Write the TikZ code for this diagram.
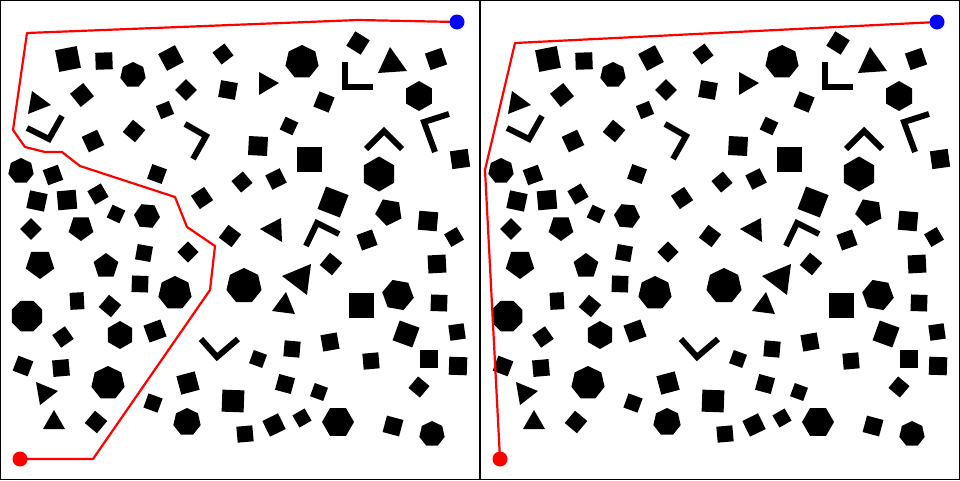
\documentclass[tikz,border=0pt]{standalone}
\newcommand\rpoly[5]{\fill[shift={(#1,#2)}] (#5:#3) \foreach \k in {1,...,#4}{ -- ({#5+360*\k/#4}:#3)} -- cycle;}
\newcommand\sqr[4]{\rpoly{#1}{#2}{#3*0.70711}{4}{#4+45}}
\newcommand\rct[5]{\fill[shift={(#1,#2)},rotate={-(#5)}] (-#3/2,-#4/2) -- (#3/2,-#4/2) -- (#3/2,#4/2) -- (-#3/2,#4/2) -- cycle;}
\tikzset{bar/.style={line width=6pt,line join=miter,line cap=butt},
  route/.style={draw=red,line width=2.2pt,line join=round}}
\newcommand\obst{%
\sqr{68}{59}{22}{-11}
\sqr{104}{61}{17}{-2}
\sqr{171}{58}{19}{-28}
\sqr{223}{54}{15}{-37}
\sqr{228}{90}{17}{10}
\sqr{82}{95}{17}{-39}
\sqr{93}{141}{17}{-25}
\sqr{134}{131}{16}{40}
\sqr{165}{110}{14}{-22}
\sqr{186}{90}{15.5}{45}
\sqr{53}{175}{16}{-20}
\sqr{37}{201}{18}{12}
\sqr{67}{200}{19}{-5}
\sqr{98}{194}{15.5}{-30}
\sqr{157}{174}{15.5}{20}
\sqr{116}{214}{14}{25}
\sqr{31}{229}{15.5}{45}
\sqr{289}{126}{14}{25}
\sqr{258}{146}{19}{3}
\sqr{309}{159}{25}{0}
\sqr{242}{182}{15}{-40}
\sqr{276}{179}{16}{-27}
\sqr{333}{202}{24}{21}
\sqr{202}{198}{16}{-34}
\sqr{230}{236}{16}{37}
\sqr{144}{253}{15.5}{10}
\sqr{188}{252}{15}{45}
\sqr{140}{284}{16.5}{2}
\sqr{331}{264}{16}{40}
\sqr{361}{305}{25}{0}
\sqr{155}{331}{18}{-20}
\sqr{258}{359}{14}{20}
\sqr{292}{349}{16}{5}
\sqr{330}{342}{16.5}{-10}
\sqr{437}{264}{18}{-3}
\sqr{439}{303}{16.5}{2}
\sqr{406}{334}{21}{20}
\sqr{457}{332}{15.5}{-8}
\sqr{371}{361}{16}{-5}
\sqr{429}{359}{17.5}{0}
\sqr{458}{366}{18}{2}
\sqr{285}{384}{16.3}{15}
\sqr{319}{392}{14}{20}
\sqr{419}{387}{15}{40}
\sqr{233}{401}{22}{2}
\sqr{245}{434}{16}{-5}
\sqr{274}{425}{17.5}{-26}
\sqr{302}{418}{14}{-30}
\sqr{393}{426}{17}{15}
\sqr{367}{240}{16.5}{-20}
\sqr{454}{237}{14.5}{-30}
\sqr{324}{102}{16.3}{22}
\sqr{358}{43}{17}{32}
\sqr{436}{59}{17.5}{-19}
\sqr{460}{159}{18}{-8}
\sqr{428}{221}{19}{5}
\sqr{23}{366}{16}{21}
\sqr{61}{368}{16.5}{-5}
\rct{77}{301}{14}{17}{-3}
\sqr{63}{337}{15.4}{-35}
\sqr{153}{403}{15}{20}
\sqr{188}{383}{19}{-15}
\sqr{96}{422}{16}{40}
\sqr{110}{306}{16}{40}
\rpoly{133}{75}{13}{7}{-90}
\rpoly{302}{62}{17}{7}{-90}
\rpoly{21}{171}{13}{7}{-90}
\rpoly{147}{216}{13}{6}{5}
\rpoly{175}{293}{17}{7}{-90}
\rpoly{244}{286}{18}{7}{-90}
\rpoly{27}{316}{16.5}{8}{22.5}
\rpoly{120}{335}{14}{6}{-90}
\rpoly{108}{383}{17}{7}{-90}
\rpoly{187}{422}{14}{7}{-90}
\rpoly{338}{422}{16}{6}{0}
\rpoly{432}{434}{13}{7}{-90}
\rpoly{419}{96}{15}{6}{-90}
\rpoly{379}{174}{17.5}{6}{-90}
\rpoly{398}{295}{16}{6}{10}
\rpoly{81}{228}{13}{5}{90}
\rpoly{40}{264}{15}{5}{90}
\rpoly{106}{266}{13}{5}{-90}
\rpoly{389}{212}{14}{5}{100}
\fill (32,91) -- (51,105) -- (28,114) -- cycle;
\fill (390,47) -- (378,73) -- (407,71) -- cycle;
\fill (259,72) -- (279,83) -- (259,95) -- cycle;
\fill (260,229) -- (281,218) -- (282,242) -- cycle;
\fill (282,276) -- (311,264) -- (307,295) -- cycle;
\fill (286,292) -- (272,311) -- (295,314) -- cycle;
\fill (36,382) -- (58,391) -- (40,405) -- cycle;
\fill (54,410) -- (43,429) -- (65,429) -- cycle;
\draw[bar] (27,128) -- (49,139) -- (62,116);
\draw[bar] (185,124) -- (206,136) -- (193,159);
\draw[bar] (345,62) -- (345,87.3) -- (372.7,87.3);
\draw[bar] (449,114) -- (424,122) -- (435,152);
\draw[bar] (339,234) -- (317,223) -- (306,246);
\draw[bar] (366,149) -- (384,131) -- (402,149);
\draw[bar] (201,339) -- (217,357) -- (238,339);
}
\begin{document}
\begin{tikzpicture}[x=1pt,y=-1pt]
\useasboundingbox (0,0) rectangle (960,480);
\fill[white] (0,0) rectangle (960,480);
\obst
\begin{scope}[shift={(480,0)}]
\obst
\end{scope}
\draw[line width=1pt] (0.5,0.5) rectangle (479.5,479.5);
\draw[line width=1pt] (480.5,0.5) rectangle (959.5,479.5);
\coordinate (s1) at (20,459);
\coordinate (g1) at (457,22);
\coordinate (s2) at (500,459);
\coordinate (g2) at (937,22);
\draw[route] (s1) -- (93,459) -- (210,290) -- (215,246) -- (187,227) -- (175,197) -- (80,166) -- (62,152) -- (45,152) -- (25,147) -- (13,130) -- (27,33) -- (358,20) -- (g1);
\draw[route] (s2) -- (485,170) -- (515,43) -- (g2);
\fill[red] (s1) circle (7.5);
\fill[blue] (g1) circle (7.5);
\fill[red] (s2) circle (7.5);
\fill[blue] (g2) circle (7.5);
\end{tikzpicture}
\end{document}
